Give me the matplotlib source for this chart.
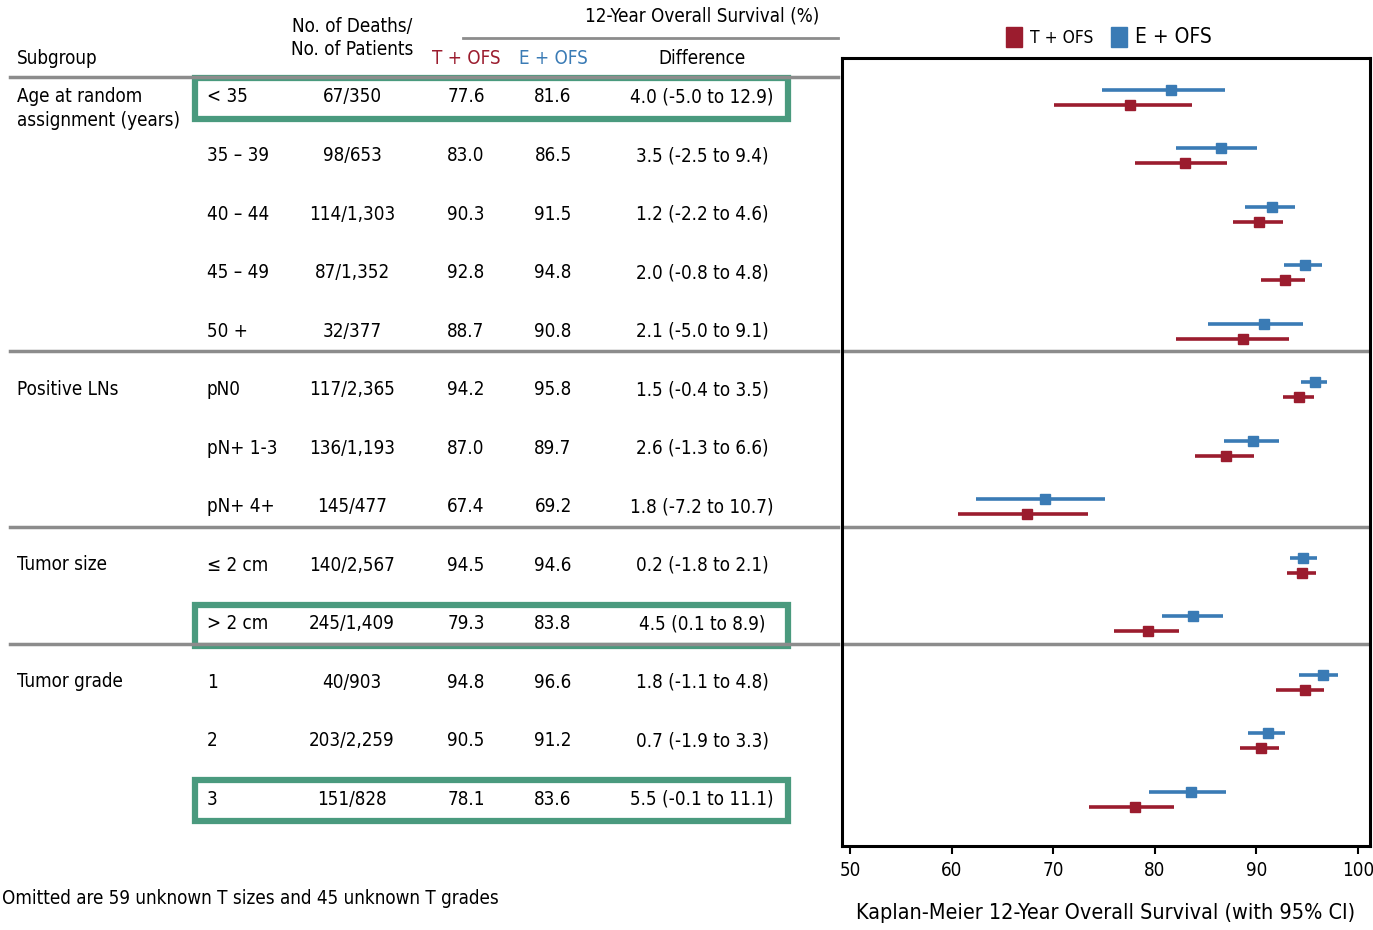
import matplotlib
matplotlib.use("Agg")
import matplotlib.pyplot as plt
from matplotlib.patches import Rectangle

plt.rcParams['font.family'] = ['Liberation Sans Narrow', 'DejaVu Sans']
plt.rcParams['font.stretch'] = 'condensed'

# --- data ---
group_names = ['Age at random\nassignment (years)', 'Positive LNs', 'Tumor size', 'Tumor grade']
group_sizes = [5, 3, 2, 3]
categories = ['< 35', '35 – 39', '40 – 44', '45 – 49', '50 +',
              'pN0', 'pN+ 1-3', 'pN+ 4+',
              '≤ 2 cm', '> 2 cm',
              '1', '2', '3']
deaths = ['67/350', '98/653', '114/1,303', '87/1,352', '32/377',
          '117/2,365', '136/1,193', '145/477',
          '140/2,567', '245/1,409',
          '40/903', '203/2,259', '151/828']
t_ofs = [77.6, 83.0, 90.3, 92.8, 88.7, 94.2, 87.0, 67.4, 94.5, 79.3, 94.8, 90.5, 78.1]
e_ofs = [81.6, 86.5, 91.5, 94.8, 90.8, 95.8, 89.7, 69.2, 94.6, 83.8, 96.6, 91.2, 83.6]
differences = ['4.0 (-5.0 to 12.9)', '3.5 (-2.5 to 9.4)', '1.2 (-2.2 to 4.6)', '2.0 (-0.8 to 4.8)',
               '2.1 (-5.0 to 9.1)', '1.5 (-0.4 to 3.5)', '2.6 (-1.3 to 6.6)', '1.8 (-7.2 to 10.7)',
               '0.2 (-1.8 to 2.1)', '4.5 (0.1 to 8.9)', '1.8 (-1.1 to 4.8)', '0.7 (-1.9 to 3.3)',
               '5.5 (-0.1 to 11.1)']
t_lo = [70.1, 78.1, 87.7, 90.5, 82.1, 92.6, 84.0, 60.6, 93.0, 76.0, 91.9, 88.4, 73.5]
t_hi = [83.7, 87.1, 92.6, 94.8, 93.2, 95.7, 89.8, 73.4, 95.9, 82.4, 96.7, 92.2, 81.9]
e_lo = [74.8, 82.1, 88.9, 92.7, 85.2, 94.4, 86.8, 62.4, 93.3, 80.7, 94.2, 89.2, 79.4]
e_hi = [86.9, 90.1, 93.8, 96.5, 94.6, 97.0, 92.2, 75.1, 96.0, 86.7, 98.0, 92.8, 87.0]
highlighted = ['< 35', '> 2 cm', '3']
footnote = 'Omitted are 59 unknown T sizes and 45 unknown T grades'

RED = '#9b1c2e'
BLUE = '#3a7bb5'
GREEN = '#4a9a7e'
GRAY = '#8c8c8c'
W, H = 1373, 930

fig = plt.figure(figsize=(W / 100, H / 100), dpi=100)

# background axes in pixel coordinates (y from top) for the table
tab = fig.add_axes([0, 0, 1, 1])
tab.set_xlim(0, W)
tab.set_ylim(H, 0)
tab.axis('off')

row_y = [97 + 58.5 * i for i in range(len(categories))]
fs = 13.5

# header
tab.text(17, 59, 'Subgroup', fontsize=fs, va='center', ha='left')
tab.text(352, 38, 'No. of Deaths/\nNo. of Patients', fontsize=fs, va='center', ha='center', linespacing=1.3)
tab.text(466, 59, 'T + OFS', fontsize=fs, va='center', ha='center', color=RED)
tab.text(553, 59, 'E + OFS', fontsize=fs, va='center', ha='center', color=BLUE)
tab.text(702, 59, 'Difference', fontsize=fs, va='center', ha='center')
tab.text(702, 16, '12-Year Overall Survival (%)', fontsize=fs, va='center', ha='center')
tab.plot([463, 838], [38, 38], color=GRAY, lw=2)
tab.plot([10, 838], [77, 77], color=GRAY, lw=2.5)

# rows
start = 0
for gname, n in zip(group_names, group_sizes):
    tab.text(17, row_y[start] - 10, gname, fontsize=fs, va='top', ha='left', linespacing=1.35)
    if start > 0:
        sep = (row_y[start - 1] + row_y[start]) / 2 - 9
        tab.plot([10, 838], [sep, sep], color=GRAY, lw=2.5)
    start += n

for i, y in enumerate(row_y):
    tab.text(207, y, categories[i], fontsize=fs, va='center', ha='left')
    tab.text(352, y, deaths[i], fontsize=fs, va='center', ha='center')
    tab.text(466, y, f'{t_ofs[i]:.1f}', fontsize=fs, va='center', ha='center')
    tab.text(553, y, f'{e_ofs[i]:.1f}', fontsize=fs, va='center', ha='center')
    tab.text(702, y, differences[i], fontsize=fs, va='center', ha='center')
    if categories[i] in highlighted:
        tab.add_patch(Rectangle((195, y - 19), 593, 41, fill=False, ec=GREEN, lw=4.5))

tab.text(2, 898, footnote, fontsize=fs, va='center', ha='left')

# forest plot
x0, x1, ytop, ybot = 842, 1370, 58, 846
ax = fig.add_axes([x0 / W, 1 - ybot / H, (x1 - x0) / W, (ybot - ytop) / H])
ax.set_xlim(49.2, 101.2)
ax.set_ylim(ybot, ytop)
for i, y in enumerate(row_y):
    ax.plot([e_lo[i], e_hi[i]], [y - 7.5, y - 7.5], color=BLUE, lw=2.6, solid_capstyle='butt')
    ax.plot([e_ofs[i]], [y - 7.5], 's', color=BLUE, ms=6.5)
    ax.plot([t_lo[i], t_hi[i]], [y + 7.5, y + 7.5], color=RED, lw=2.6, solid_capstyle='butt')
    ax.plot([t_ofs[i]], [y + 7.5], 's', color=RED, ms=6.5)

start = 0
for n in group_sizes:
    if start > 0:
        sep = (row_y[start - 1] + row_y[start]) / 2 - 9
        ax.axhline(sep, color=GRAY, lw=2.5)
    start += n

ax.set_yticks([])
ax.set_xticks([50, 60, 70, 80, 90, 100])
ax.tick_params(axis='x', labelsize=fs, length=6, width=1.5, direction='out', pad=5)
for s in ax.spines.values():
    s.set_linewidth(2.2)
ax.set_xlabel('Kaplan-Meier 12-Year Overall Survival (with 95% CI)', fontsize=15.5, labelpad=16)

# legend
h1 = Rectangle((0, 0), 1, 1, color=RED)
h2 = Rectangle((0, 0), 1, 1, color=BLUE)
leg = fig.legend([h1, h2], ['T + OFS', 'E + OFS'], loc='center', bbox_to_anchor=(1109 / W, 1 - 37 / H),
                 ncol=2, frameon=False, fontsize=12.5, handlelength=0.9, handleheight=1.4,
                 handletextpad=0.5, columnspacing=1.0)
leg.get_texts()[1].set_fontsize(15)

fig.savefig('out.png', dpi=100)
